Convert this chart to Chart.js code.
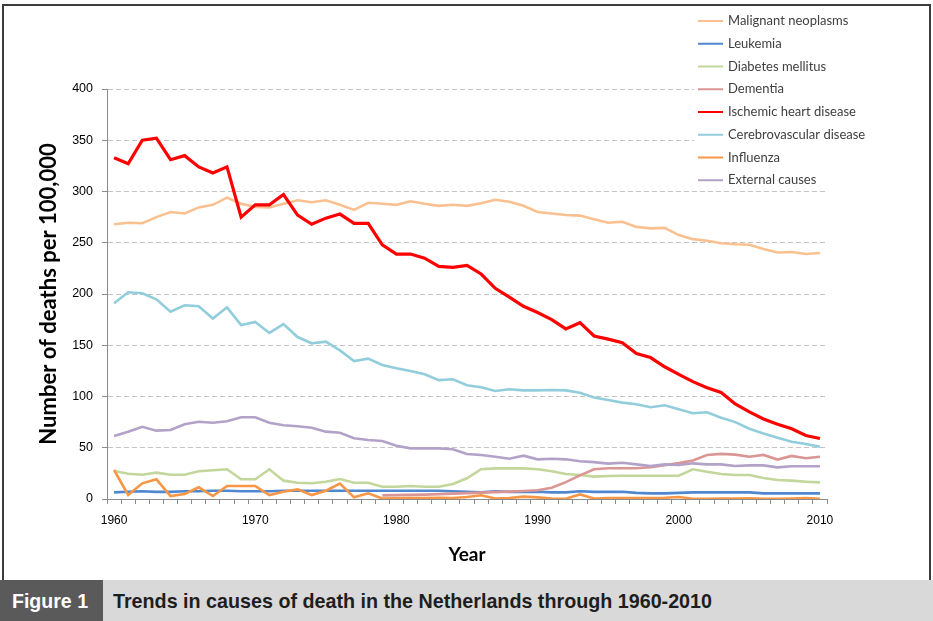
<!DOCTYPE html>
<html lang="en">
<head>
<meta charset="UTF-8">
<title>Trends in causes of death in the Netherlands 1960-2010</title>
<script src="https://cdn.jsdelivr.net/npm/chart.js"></script>
<style>
  body { margin: 0; background: #fff; }
  .figure { position: relative; width: 933px; height: 621px; overflow: hidden; background: #fff; }
  #chart { position: absolute; left: 0; top: 0; }
  .frame {
    position: absolute; left: 2px; top: 4px; width: 929px; height: 578px;
    border: 2px solid #3c3c3c; border-bottom: none; box-sizing: border-box;
    pointer-events: none;
  }
  .caption {
    position: absolute; left: 0; top: 580px; width: 933px; height: 41px;
    background: #d9d9d9; font-family: "Liberation Sans Narrow", "Liberation Sans", sans-serif;
    font-weight: bold; font-size: 21px; line-height: 41px; white-space: nowrap;
  }
  .caption .num {
    position: absolute; left: 0; top: 0; width: 103px; height: 41px;
    background: #5a5a5a;
  }
  .caption .fit { position: absolute; top: 0; transform-origin: 0 50%; }
  .caption .label { left: 12px; color: #fff; }
  .caption .text { left: 113px; color: #1e1e1e; }
</style>
</head>
<body>
<div class="figure">
  <canvas id="chart" width="933" height="580"></canvas>
  <div class="frame"></div>
  <div class="caption">
    <div class="num"></div>
    <div class="fit label" data-w="76">Figure 1</div>
    <div class="fit text" data-w="599">Trends in causes of death in the Netherlands through 1960-2010</div>
  </div>
</div>

<script>
const years = [];
for (let y = 1960; y <= 2010; y++) years.push(String(y));

const yTicks = [0, 50, 100, 150, 200, 250, 300, 350, 400];

const malignant = [268, 269.5, 269, 275, 280, 278.5, 284.5, 287, 294, 288,
  285, 284.5, 288, 291.5, 289.5, 291.5, 287, 282, 289, 288,
  287, 290.5, 288, 286, 287, 286, 288.5, 292, 290, 286,
  280, 278.5, 277, 276.5, 273, 269.5, 270.5, 265.5, 264, 264.5,
  257.5, 253.5, 252, 249.5, 248.5, 248, 244, 240.5, 241, 239, 240];

const leukemia = [6.5, 7, 7.5, 7, 7, 7.5, 7.5, 8, 8, 7.5,
  7.5, 7.5, 8, 8, 8, 8, 8, 8, 8, 8,
  8, 8, 8, 8, 7.5, 7, 6.5, 7.5, 7, 7,
  7, 6.5, 6.5, 7.5, 7, 7, 7, 6, 5.5, 5.5,
  6, 6.5, 6.5, 6.5, 6.5, 6.5, 5.5, 5.5, 5.5, 5.5, 5.5];

const diabetes = [27.3, 24.7, 23.7, 25.7, 23.7, 23.7, 27, 28, 29, 19.2,
  19.2, 29, 17.9, 15.8, 15.3, 16.9, 19.5, 15.9, 15.9, 12,
  12, 12.7, 12, 12, 14.6, 20.2, 29, 29.9, 29.9, 29.9,
  29, 27, 24.4, 23.4, 21.8, 22.4, 22.7, 22.7, 22.7, 22.7,
  22.7, 29, 26.6, 24.4, 23.4, 23.4, 20.5, 18.5, 17.9, 16.9, 16.2];

const dementia = [null, null, null, null, null, null, null, null, null, null,
  null, null, null, null, null, null, null, null, null, 3.5,
  3.8, 4, 4.3, 4.8, 5.2, 5.7, 6.2, 6.7, 7.2, 7.8,
  8.5, 11, 16.5, 23, 29, 30, 30, 30, 31, 33,
  35, 37.5, 43, 44, 43.3, 41.3, 43, 38.5, 42, 39.7, 41.3];

const ischemic = [333, 327, 350, 352, 331, 335, 324, 318, 324, 275,
  287, 287, 297, 277, 268, 274, 278, 269, 269, 248,
  239, 239, 235, 227, 226, 228, 219.5, 205.5, 197, 188,
  182, 175, 166, 172, 159, 156, 152.5, 142, 138, 129,
  121.6, 114.5, 108.6, 104, 92.7, 85, 78, 73, 68.6, 62, 59];

const cerebro = [191, 201.7, 200.7, 194.8, 182.7, 189, 188, 176, 187, 169.8,
  172.7, 162, 170.7, 158, 151.9, 153.5, 145, 134.6, 136.9, 130.7,
  127.5, 124.9, 121.6, 116, 116.8, 111, 109, 105.4, 107, 106,
  106, 106.3, 106, 103.7, 99, 96.6, 94, 92.4, 89.5, 91.4,
  87.5, 83.6, 84.6, 79.3, 75, 68.6, 64, 59.8, 55.9, 53.7, 51];

const influenza = [28.3, 3.9, 15.3, 19.2, 2.9, 4.9, 11.4, 2.9, 12.7, 12.7,
  12.7, 3.9, 7.1, 9.4, 3.9, 8.1, 15, 1.6, 5.5, 0.5,
  0.8, 1, 1, 1.2, 1, 2, 3.6, 0.5, 1, 2.3,
  1.6, 0.5, 0.3, 4.5, 0.5, 1, 1, 1, 1, 1.2,
  2, 0.3, 0.3, 0.5, 0.5, 0.8, 0.3, 0.3, 0.5, 1, 0.2];

const external = [61.5, 65.7, 70.5, 66.7, 67.3, 73, 75.4, 74.4, 75.8, 79.7,
  79.7, 74.4, 72, 71, 69.6, 65.7, 64.7, 59.2, 57.6, 56.6,
  52, 49.4, 49.4, 49.4, 48.5, 43.9, 42.9, 41.3, 39.3, 42.3,
  38.7, 39.3, 38.7, 36.8, 36, 34.5, 35.4, 33.8, 32.2, 33.8,
  33.2, 34.8, 33.8, 33.8, 32.2, 32.8, 32.8, 30.9, 31.9, 31.9, 31.9];

const seriesNames = ['Malignant neoplasms', 'Leukemia', 'Diabetes mellitus', 'Dementia',
  'Ischemic heart disease', 'Cerebrovascular disease', 'Influenza', 'External causes'];
const seriesData = [malignant, leukemia, diabetes, dementia, ischemic, cerebro, influenza, external];
const seriesColors = ['#fac090', '#4f87d0', '#c3d69b', '#d99694', '#ff0000', '#92cddc', '#f79646', '#b3a2c7'];

// squeeze the caption text to the width it has in the printed figure
document.querySelectorAll('.caption .fit').forEach(el => {
  const w = el.getBoundingClientRect().width;
  el.style.transform = 'scaleX(' + (Number(el.dataset.w) / w) + ')';
});

// legend drawn in the top right like the Excel original
const sideLegend = {
  id: 'sideLegend',
  afterDraw(chart) {
    const ctx = chart.ctx;
    ctx.save();
    ctx.fillStyle = '#fff';
    ctx.fillRect(694, 80, 140, 108);
    ctx.font = '13px Lato, "Liberation Sans", sans-serif';
    ctx.textBaseline = 'middle';
    chart.data.datasets.forEach((ds, i) => {
      const y = 21 + i * 22.75;
      ctx.strokeStyle = ds.borderColor;
      ctx.lineWidth = 2;
      ctx.beginPath();
      ctx.moveTo(698, y);
      ctx.lineTo(723, y);
      ctx.stroke();
      ctx.fillStyle = '#404040';
      ctx.fillText(ds.label, 728, y);
    });
    ctx.restore();
  }
};

new Chart(document.getElementById('chart'), {
  type: 'line',
  data: {
    labels: years,
    datasets: seriesNames.map((name, i) => ({
      label: name,
      data: seriesData[i],
      borderColor: seriesColors[i],
      backgroundColor: seriesColors[i],
      borderWidth: i === 4 ? 3.2 : 2.6,
      pointRadius: 0,
      tension: 0,
      spanGaps: false,
      order: seriesNames.length - i
    }))
  },
  options: {
    responsive: false,
    animation: false,
    layout: { padding: { left: 0, top: 89, right: 106, bottom: 0 } },
    plugins: { legend: { display: false }, tooltip: { enabled: false } },
    scales: {
      x: {
        type: 'category',
        offset: true,
        grid: { offset: true, drawOnChartArea: false, drawTicks: true, tickLength: 5, tickColor: '#8c8c8c' },
        border: { color: '#8c8c8c', width: 1 },
        ticks: {
          autoSkip: false, maxRotation: 0, minRotation: 0, padding: 9,
          color: '#000', font: { family: '"Liberation Sans", Arial, sans-serif', size: 12 },
          callback: function (v) { const l = this.getLabelForValue(v); return Number(l) % 10 === 0 ? l : ''; }
        },
        title: {
          display: true, text: 'Year', color: '#000',
          font: { family: 'Lato, sans-serif', size: 19, weight: 'bold' },
          padding: { top: 0, bottom: 14 }
        },
        afterFit: (s) => { s.height = 81; }
      },
      y: {
        min: 0, max: 400,
        afterBuildTicks: (s) => { s.ticks = yTicks.map(v => ({ value: v })); },
        grid: { color: '#c4c4c4', tickColor: '#8c8c8c', tickLength: 5, drawTicks: true },
        border: { color: '#8c8c8c', width: 1, dash: [5, 3] },
        ticks: { padding: 9, color: '#000', font: { family: '"Liberation Sans", Arial, sans-serif', size: 12.5 } },
        title: {
          display: true, text: 'Number of deaths per 100,000', color: '#000',
          font: { family: 'Lato, sans-serif', size: 22, weight: 'bold' },
          padding: { top: 36, bottom: 0 }
        },
        afterFit: (s) => { s.width = 107; }
      }
    }
  },
  plugins: [sideLegend]
});
</script>
</body>
</html>
